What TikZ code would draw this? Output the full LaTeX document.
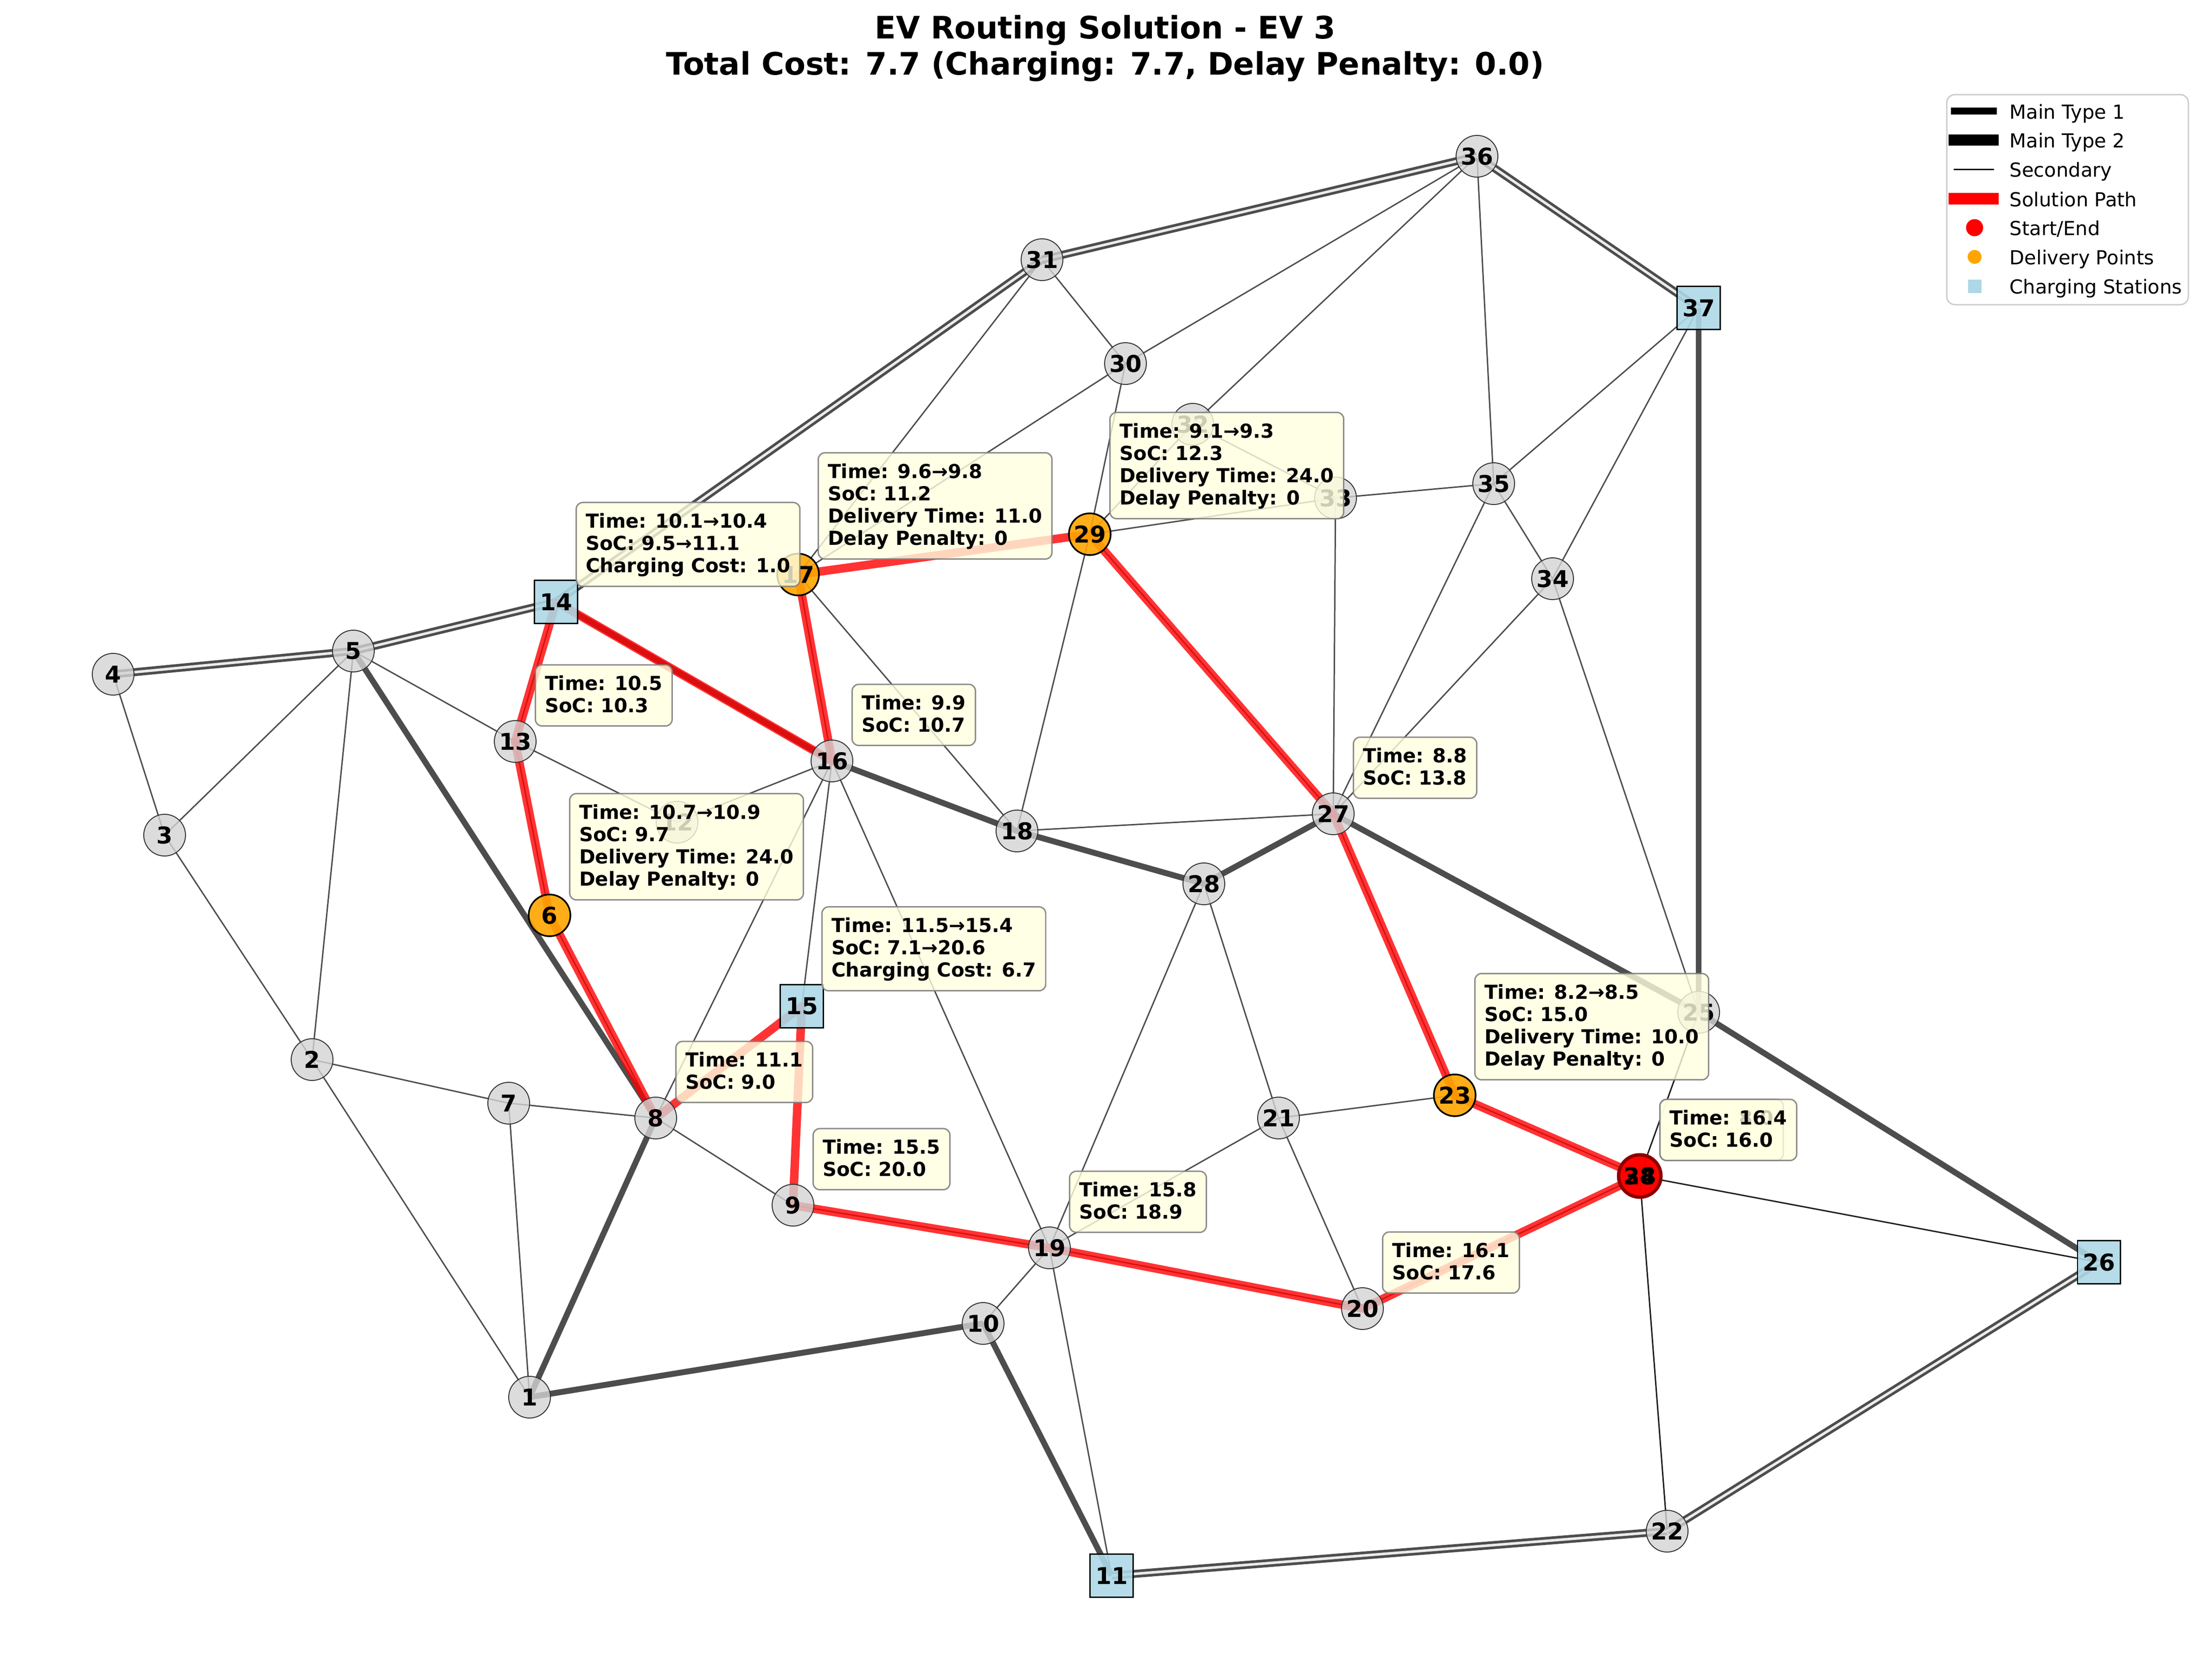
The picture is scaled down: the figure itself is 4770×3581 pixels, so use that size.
\documentclass[tikz,border=0pt]{standalone}
\usepackage{fontspec}
\setmainfont{DejaVu Sans}
\definecolor{edgec}{HTML}{4D4D4D}
\definecolor{darkc}{HTML}{1E1E1E}
\definecolor{innerc}{HTML}{EBEBEB}
\definecolor{ngray}{HTML}{D3D3D3}
\definecolor{nborder}{HTML}{333333}
\definecolor{dorange}{HTML}{FFA500}
\definecolor{cblue}{HTML}{ADD8E6}
\definecolor{lyellow}{HTML}{FFFFE0}
\definecolor{bgray}{HTML}{808080}
\definecolor{dred}{HTML}{8B0000}
\definecolor{legc}{HTML}{CCCCCC}
\newcommand\annstrut{\rule[-2.3pt]{0pt}{11.9pt}}
\tikzset{
 secedge/.style={draw=edgec, line width=0.85pt},
 darkedge/.style={draw=darkc, line width=0.85pt},
 mtwo/.style={draw=edgec, line width=3.6pt},
 mone/.style={draw=edgec, line width=1.65pt, double=innerc, double distance=1.6pt},
 solpath/.style={draw=red, opacity=0.8, line width=5.2pt, line cap=round},
 gnode/.style={circle, fill=ngray, fill opacity=0.8, text opacity=1, draw=nborder, line width=0.57pt, minimum size=25.6pt, inner sep=0pt, font=\fontsize{14.2}{17}\selectfont\bfseries},
 dnode/.style={gnode, fill=dorange, fill opacity=0.9, draw=black, line width=1pt},
 snode/.style={gnode, fill=red, fill opacity=0.9, draw=dred, line width=2pt, minimum size=26pt},
 cnode/.style={gnode, rectangle, fill=cblue, fill opacity=0.9, draw=black, line width=0.85pt, minimum size=26.2pt},
 lbl/.style={inner sep=0pt, font=\fontsize{14.2}{17}\selectfont\bfseries},
 ann/.style={anchor=south west, xshift=11.95pt, yshift=9.1pt, rectangle, rounded corners=4pt, fill=lyellow, fill opacity=0.8, text opacity=1, draw=bgray, draw opacity=0.9, line width=0.85pt, inner sep=5.92pt, align=left, font=\fontsize{11.85}{13.71}\selectfont\bfseries},
 legtext/.style={anchor=base west, inner sep=0pt, font=\fontsize{11.85}{14}\selectfont},
 titletext/.style={anchor=base, inner sep=0pt, font=\fontsize{19}{22}\selectfont\bfseries},
}
\begin{document}
\begin{tikzpicture}[x=0.01cm, y=-0.01cm]
\path[use as bounding box] (0,0) rectangle (4770,3581);
% node positions
\coordinate (p1) at (1142,3013);
\coordinate (p2) at (673,2285);
\coordinate (p3) at (355,1801);
\coordinate (p4) at (244,1454);
\coordinate (p5) at (762,1404);
\coordinate (p6) at (1185,1974);
\coordinate (p7) at (1097,2379);
\coordinate (p8) at (1414,2411);
\coordinate (p9) at (1710,2599);
\coordinate (p10) at (2120,2854);
\coordinate (p11) at (2397,3398);
\coordinate (p12) at (1460,1773);
\coordinate (p13) at (1111,1599);
\coordinate (p14) at (1199,1298);
\coordinate (p15) at (1729,2170);
\coordinate (p16) at (1794,1641);
\coordinate (p17) at (1721,1239);
\coordinate (p18) at (2193,1792);
\coordinate (p19) at (2263,2691);
\coordinate (p20) at (2938,2822);
\coordinate (p21) at (2757,2411);
\coordinate (p22) at (3595,3302);
\coordinate (p23) at (3137,2362);
\coordinate (p24) at (3536,2536);
\coordinate (p25) at (3663,2183);
\coordinate (p26) at (4526,2722);
\coordinate (p27) at (2875,1755);
\coordinate (p28) at (2596,1906);
\coordinate (p29) at (2350,1152);
\coordinate (p30) at (2427,784);
\coordinate (p31) at (2247,560);
\coordinate (p32) at (2572,915);
\coordinate (p33) at (2880,1074);
\coordinate (p34) at (3348,1248);
\coordinate (p35) at (3221,1043);
\coordinate (p36) at (3185,337);
\coordinate (p37) at (3663,664);
\coordinate (p38) at (3536,2536);
% secondary roads
\foreach \a/\b in {4/3,3/5,3/2,5/2,5/13,2/7,2/1,7/1,7/8,8/9,8/16,13/12,12/16,16/15,16/19,13/14,13/6,6/8,16/17,17/18,17/31,17/30,29/30,29/33,29/18,29/32,29/27,31/30,30/36,36/32,32/33,33/35,33/27,36/35,35/37,35/27,35/34,34/37,34/27,34/25,27/18,28/19,28/21,21/19,21/23,21/20,19/10,19/11,19/9,19/20,27/23,23/24,20/24}
  \draw[secedge] (p\a) -- (p\b);
\foreach \a/\b in {24/25,24/26,24/22}
  \draw[darkedge] (p\a) -- (p\b);
% main type 2
\foreach \a/\b in {5/8,1/8,1/10,10/11,14/16,16/18,18/28,28/27,27/25,25/26,37/25}
  \draw[mtwo] (p\a) -- (p\b);
% main type 1
\foreach \a/\b in {4/5,5/14,14/31,31/36,36/37,26/22,22/11}
  \draw[mone] (p\a) -- (p\b);
% solution path
\foreach \a/\b in {24/23,23/27,27/29,29/17,17/16,16/14,14/13,13/6,6/8,8/15,15/9,9/19,19/20,20/38}
  \draw[solpath] (p\a) -- (p\b);
% nodes
\foreach \i in {1,2,3,4,5,7,8,9,10,12,13,16,18,19,20,21,22,25,27,28,30,31,32,33,34,35,36}
  \node[gnode] (n\i) at (p\i) {\i};
\foreach \i in {6,17,23,29}
  \node[dnode] (n\i) at (p\i) {\i};
\foreach \i in {11,14,15,26,37}
  \node[cnode] (n\i) at (p\i) {\i};
\node[snode] (n24) at (p24) {};
\node[snode] (n38) at (p38) {};
\node[lbl] (l24) at (p24) {24};
\node[lbl] (l38) at (p38) {38};
% annotations
\node[ann] (a24) at (p24) {\annstrut Time: 8.0\\\annstrut SoC: 16.0};
\node[ann] (a23) at (p23) {\annstrut Time: 8.2→8.5\\\annstrut SoC: 15.0\\\annstrut Delivery Time: 10.0\\\annstrut Delay Penalty: 0};
\node[ann] (a27) at (p27) {\annstrut Time: 8.8\\\annstrut SoC: 13.8};
\node[ann] (a29) at (p29) {\annstrut Time: 9.1→9.3\\\annstrut SoC: 12.3\\\annstrut Delivery Time: 24.0\\\annstrut Delay Penalty: 0};
\node[ann] (a17) at (p17) {\annstrut Time: 9.6→9.8\\\annstrut SoC: 11.2\\\annstrut Delivery Time: 11.0\\\annstrut Delay Penalty: 0};
\node[ann] (a16) at (p16) {\annstrut Time: 9.9\\\annstrut SoC: 10.7};
\node[ann] (a14) at (p14) {\annstrut Time: 10.1→10.4\\\annstrut SoC: 9.5→11.1\\\annstrut Charging Cost: 1.0};
\node[ann] (a13) at (p13) {\annstrut Time: 10.5\\\annstrut SoC: 10.3};
\node[ann] (a6) at (p6) {\annstrut Time: 10.7→10.9\\\annstrut SoC: 9.7\\\annstrut Delivery Time: 24.0\\\annstrut Delay Penalty: 0};
\node[ann] (a8) at (p8) {\annstrut Time: 11.1\\\annstrut SoC: 9.0};
\node[ann] (a15) at (p15) {\annstrut Time: 11.5→15.4\\\annstrut SoC: 7.1→20.6\\\annstrut Charging Cost: 6.7};
\node[ann] (a9) at (p9) {\annstrut Time: 15.5\\\annstrut SoC: 20.0};
\node[ann] (a19) at (p19) {\annstrut Time: 15.8\\\annstrut SoC: 18.9};
\node[ann] (a20) at (p20) {\annstrut Time: 16.1\\\annstrut SoC: 17.6};
\node[ann] (a38) at (p38) {\annstrut Time: 16.4\\\annstrut SoC: 16.0};
% title
\node[titletext] (t1) at (2383,83) {EV Routing Solution - EV 3};
\node[titletext] (t2) at (2383,161) {Total Cost: 7.7 (Charging: 7.7, Delay Penalty: 0.0)};
% legend
\draw[draw=legc, line width=0.85pt, rounded corners=5pt, fill=white, fill opacity=0.8] (4198,204) rectangle (4719,657);
\coordinate (h1a) at (4214,239.5); \coordinate (h1b) at (4298,239.5);
\coordinate (h2a) at (4214,302); \coordinate (h2b) at (4298,302);
\coordinate (h3a) at (4214,365); \coordinate (h3b) at (4298,365);
\coordinate (h4a) at (4214,428.5); \coordinate (h4b) at (4298,428.5);
\draw[black, line width=4.27pt, line cap=rect] (h1a) -- (h1b);
\draw[black, line width=7pt, line cap=rect] (h2a) -- (h2b);
\draw[black, line width=0.85pt, line cap=rect] (h3a) -- (h3b);
\draw[red, line width=7pt, line cap=rect] (h4a) -- (h4b);
\node[circle, fill=red, minimum size=10.5pt, inner sep=0pt] (m5) at (4258,491) {};
\node[circle, fill=dorange, minimum size=8.5pt, inner sep=0pt] (m6) at (4258,554) {};
\node[rectangle, fill=cblue, minimum size=8.25pt, inner sep=0pt] (m7) at (4258,617) {};
\node[legtext] (lt1) at (4333,256) {Main Type 1};
\node[legtext] (lt2) at (4333,318.5) {Main Type 2};
\node[legtext] (lt3) at (4333,381.5) {Secondary};
\node[legtext] (lt4) at (4333,445) {Solution Path};
\node[legtext] (lt5) at (4333,507.5) {Start/End};
\node[legtext] (lt6) at (4333,570.5) {Delivery Points};
\node[legtext] (lt7) at (4333,633.5) {Charging Stations};
\end{tikzpicture}
\end{document}
